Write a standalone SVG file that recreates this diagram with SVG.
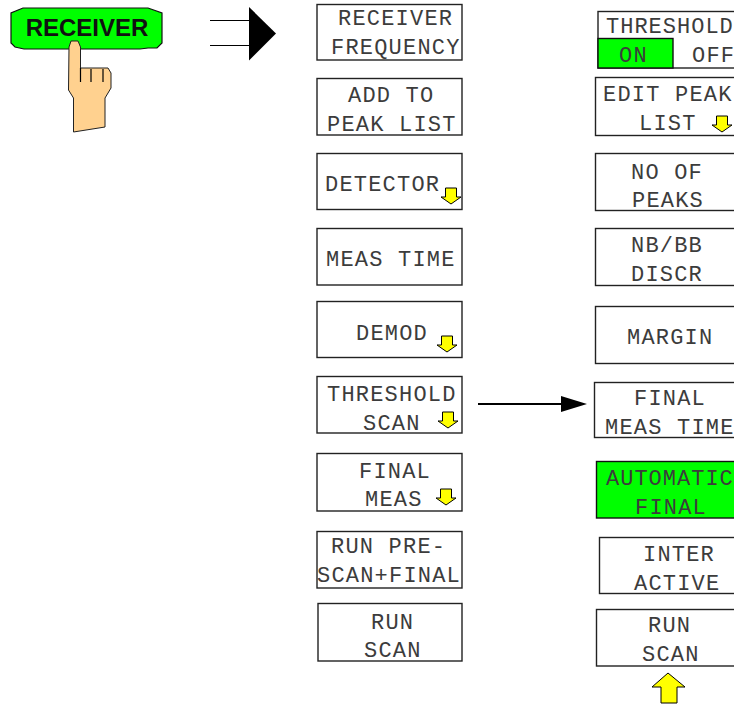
<svg xmlns="http://www.w3.org/2000/svg" width="734" height="704" viewBox="0 0 734 704">
<style>
.b{fill:#fff;stroke:#222;stroke-width:1.4}
.g{fill:#00ff00;stroke:#111;stroke-width:1.4}
text.t{font-family:"Liberation Mono",monospace;font-size:22px;letter-spacing:1.2px;fill:#3c3c3c;text-anchor:start}
.a{fill:#ffff00;stroke:#000;stroke-width:1}
.l{stroke:#000;fill:none}
</style>
<defs>
<path id="da" class="a" d="M-5.500 -12H5.500V-3H10L0 4L-10 -3H-5.500Z"/>
</defs>
<rect width="734" height="704" fill="#fff"/>
<g id="receiver-key">
<path d="M23 8H148L162 13V43L157 48H148L140 49H24L15 47L11 43V13Z" fill="#00ff00" stroke="#111" stroke-width="1.2"/>
<text x="87" y="36" text-anchor="middle" style="font-family:'Liberation Sans',sans-serif;font-size:24px;font-weight:700;fill:#111">RECEIVER</text>
</g>
<g id="hand">
<path d="M69 47L71 41H78L80.500 47V68H108L111 73V88L105 98V127L73.500 132V98L68.500 90Z" fill="#ffd18f" stroke="#222" stroke-width="1"/>
<path d="M80.500 68V82M91 69V82M103 69V82" class="l" stroke-width="1.200"/>
</g>
<g id="connectors">
<path d="M210 20.500H250M210 45.500H250" class="l" stroke-width="1.200"/>
<polygon points="249,7 276,33.500 249,60.500" fill="#000"/>
<path d="M478 404H565" class="l" stroke-width="2"/>
<polygon points="561,396 587,404 561,412" fill="#000"/>
</g>
<g id="k1"><rect class="b" x="317" y="4.500" width="145" height="55.500"/><text class="t" x="338" y="25">RECEIVER</text><text class="t" x="331" y="54">FREQUENCY</text></g>
<g id="k2"><rect class="b" x="317" y="78.500" width="145" height="56.500"/><text class="t" x="348" y="102">ADD TO</text><text class="t" x="327" y="131">PEAK LIST</text></g>
<g id="k3"><rect class="b" x="317" y="153.500" width="145" height="56"/><text class="t" x="325" y="191">DETECTOR</text><use href="#da" x="451" y="200"/></g>
<g id="k4"><rect class="b" x="317" y="228.500" width="145" height="56.500"/><text class="t" x="326" y="266">MEAS TIME</text></g>
<g id="k5"><rect class="b" x="317" y="301.500" width="145" height="56"/><text class="t" x="356" y="340">DEMOD</text><use href="#da" x="447" y="348"/></g>
<g id="k6"><rect class="b" x="317" y="376.500" width="145" height="56.500"/><text class="t" x="327" y="401">THRESHOLD</text><text class="t" x="363" y="430">SCAN</text><use href="#da" x="448" y="424"/></g>
<g id="k7"><rect class="b" x="317" y="453.500" width="145" height="57.500"/><text class="t" x="359" y="478">FINAL</text><text class="t" x="365" y="506">MEAS</text><use href="#da" x="446" y="501"/></g>
<g id="k8"><rect class="b" x="317" y="531.500" width="145" height="56.500"/><text class="t" x="331" y="553">RUN PRE-</text><text class="t" x="317" y="582">SCAN+FINAL</text></g>
<g id="k9"><rect class="b" x="318" y="603.500" width="144" height="57.500"/><text class="t" x="371" y="629">RUN</text><text class="t" x="364" y="657">SCAN</text></g>
<g id="r1"><rect class="b" x="598" y="11.500" width="140" height="56.500"/><rect class="g" x="598" y="38.500" width="75" height="29.500"/><text class="t" x="606" y="33" style="letter-spacing:1px">THRESHOLD</text><text class="t" x="619" y="62">ON</text><text class="t" x="692" y="62">OFF</text></g>
<g id="r2"><rect class="b" x="595.500" y="77.500" width="142" height="58"/><text class="t" x="603" y="101">EDIT PEAK</text><text class="t" x="639" y="130">LIST</text><use href="#da" x="722" y="128"/></g>
<g id="r3"><rect class="b" x="595.500" y="153.500" width="142" height="57"/><text class="t" x="631" y="179">NO OF</text><text class="t" x="632" y="207">PEAKS</text></g>
<g id="r4"><rect class="b" x="595.500" y="228.500" width="142" height="57"/><text class="t" x="631" y="252">NB/BB</text><text class="t" x="631" y="281">DISCR</text></g>
<g id="r5"><rect class="b" x="595.500" y="306.500" width="142" height="57"/><text class="t" x="627" y="344">MARGIN</text></g>
<g id="r6"><rect class="b" x="594.500" y="382.500" width="142" height="55"/><text class="t" x="634" y="405">FINAL</text><text class="t" x="605" y="434">MEAS TIME</text></g>
<g id="r7"><rect class="g" x="596.500" y="461.500" width="142" height="56.500"/><text class="t" x="606" y="485" style="letter-spacing:1px">AUTOMATIC</text><text class="t" x="635" y="514">FINAL</text></g>
<g id="r8"><rect class="b" x="599.500" y="537.500" width="138" height="56"/><text class="t" x="643" y="561">INTER</text><text class="t" x="634" y="590">ACTIVE</text></g>
<g id="r9"><rect class="b" x="596.500" y="609.500" width="142" height="56.500"/><text class="t" x="648" y="632">RUN</text><text class="t" x="642" y="661">SCAN</text></g>
<polygon id="up-arrow" class="a" points="668,673 685,687 677,687 677,703 661,703 661,687 652,687"/>
</svg>
